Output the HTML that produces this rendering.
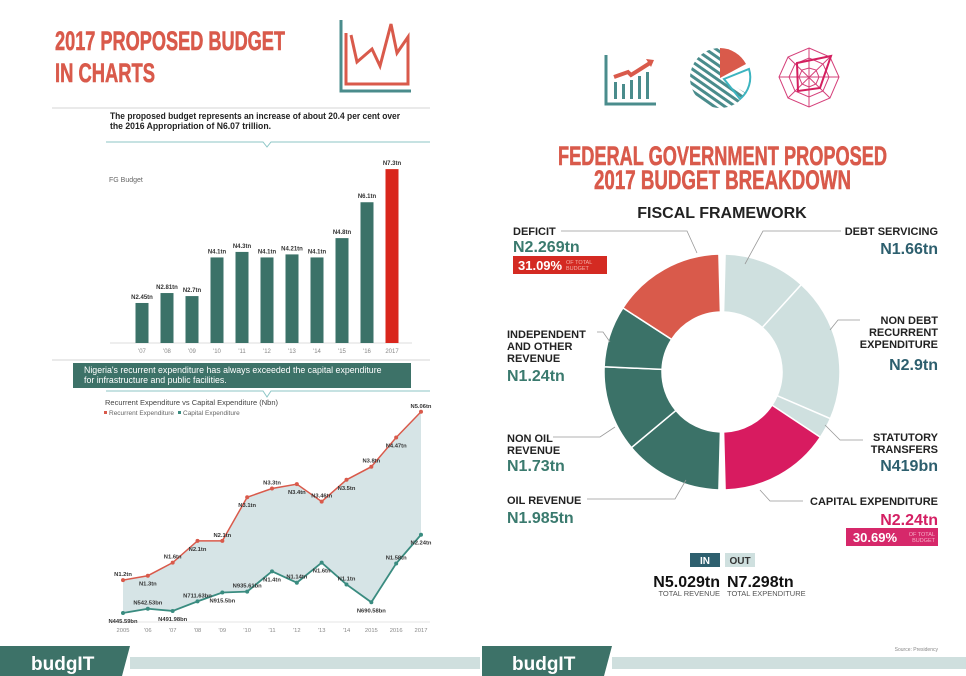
<!DOCTYPE html>
<html><head><meta charset="utf-8">
<style>
html,body{margin:0;padding:0;background:#fff;}
svg{display:block;font-family:"Liberation Sans",sans-serif;}
</style></head>
<body>
<svg id="pg" width="966" height="676" viewBox="0 0 966 676" xmlns="http://www.w3.org/2000/svg">
  <!-- LEFT PANEL -->
  <g fill="#d95a4b" font-weight="bold" stroke="#d95a4b" stroke-width="0.6">
    <text x="55" y="50" font-size="27" textLength="230" lengthAdjust="spacingAndGlyphs">2017 PROPOSED BUDGET</text>
    <text x="55" y="82" font-size="27" textLength="100" lengthAdjust="spacingAndGlyphs">IN CHARTS</text>
  </g>
  <g fill="none">
    <polyline points="341,20 341,91 411,91" stroke="#4a8c8c" stroke-width="3"/>
    <polyline points="346,33 346,84 408,84 408,37 397,53 391,24 380,66 372,49 357,62 351,35" stroke="#d95a4b" stroke-width="3"/>
  </g>
  <line x1="52" y1="108" x2="430" y2="108" stroke="#e3e3e3" stroke-width="1.5"/>
  <g font-size="9.5" font-weight="bold" fill="#222">
    <text x="110" y="119" textLength="290" lengthAdjust="spacingAndGlyphs">The proposed budget represents an increase of about 20.4 per cent over</text>
    <text x="110" y="129" textLength="161" lengthAdjust="spacingAndGlyphs">the 2016 Appropriation of N6.07 trillion.</text>
  </g>
  <polyline points="106,142 263,142 267,147 271,142 430,142" fill="none" stroke="#8cc6c6" stroke-width="1"/>
  <text x="109" y="182" font-size="7" fill="#666">FG Budget</text>
  <line x1="110" y1="343" x2="412" y2="343" stroke="#ddd"/>
  <g id="bars"></g>

  <line x1="52" y1="360" x2="430" y2="360" stroke="#e3e3e3" stroke-width="1.5"/>
  <rect x="73" y="363" width="338" height="25" fill="#3d7268"/>
  <g font-size="8.8" fill="#fff">
    <text x="84" y="373">Nigeria's recurrent expenditure has always exceeded the capital expenditure</text>
    <text x="84" y="383">for infrastructure and public facilities.</text>
  </g>
  <polyline points="106,391 263,391 267,397 271,391 430,391" fill="none" stroke="#8cc6c6" stroke-width="1"/>
  <text x="105" y="405" font-size="7.5" fill="#444">Recurrent Expenditure vs Capital Expenditure (Nbn)</text>
  <g font-size="6.5" fill="#666">
    <rect x="104" y="411" width="3" height="3" fill="#d95a4b"/>
    <text x="109" y="415">Recurrent Expenditure</text>
    <rect x="178" y="411" width="3" height="3" fill="#3a8c80"/>
    <text x="183" y="415">Capital Expenditure</text>
  </g>
  <line x1="112" y1="622" x2="430" y2="622" stroke="#e5e5e5"/>
  <g id="lines"></g>

  <!-- footer left -->
  <polygon points="0,646 130,646 122,676 0,676" fill="#3d7268"/>
  <rect x="130" y="657" width="350" height="12" fill="#cfdfde"/>
  <text x="31" y="670" font-size="19" font-weight="bold" fill="#fff">budgIT</text>

  <!-- RIGHT PANEL -->
  <g>
    <polyline points="606,55 606,104 656,104" fill="none" stroke="#4a8c8c" stroke-width="3"/>
    <rect x="614" y="82" width="3" height="17" fill="#4a8c8c"/><rect x="622" y="84" width="3" height="15" fill="#4a8c8c"/>
    <rect x="630" y="80" width="3" height="19" fill="#4a8c8c"/><rect x="638" y="76" width="3" height="23" fill="#4a8c8c"/>
    <rect x="646" y="72" width="3" height="27" fill="#4a8c8c"/>
    <polyline points="614,77 628,72 631,75 650,63" fill="none" stroke="#d95a4b" stroke-width="4"/>
    <polygon points="646,59 654,60 651,67" fill="#d95a4b"/>
  </g>
  <g>
    <defs><pattern id="hatch" width="6" height="6" patternUnits="userSpaceOnUse" patternTransform="rotate(35)"><rect width="6" height="3" fill="#4a8c8c"/></pattern></defs>
    <path d="M720,78 L720,48 A30,30 0 1 0 746,93 Z" fill="url(#hatch)"/>
    <path d="M720,78 L720,48 A30,30 0 0 1 746,64 Z" fill="#d95a4b"/>
    <path d="M724,79 L749,69 A28,28 0 0 1 740,99 Z" fill="none" stroke="#3cb4c0" stroke-width="2"/>
  </g>
  <g fill="none" stroke="#d5407a" stroke-width="1">
    <polygon points="809,48 830,57 839,77 830,98 809,107 788,98 779,77 788,57"/>
    <polygon points="809,58 823,64 829,77 823,91 809,97 795,91 789,77 795,64"/>
    <polygon points="809,68 816,70 819,77 816,84 809,87 802,84 799,77 802,70"/>
    <line x1="809" y1="48" x2="809" y2="107"/><line x1="779" y1="77" x2="839" y2="77"/>
    <line x1="788" y1="57" x2="830" y2="98"/><line x1="830" y1="57" x2="788" y2="98"/>
    <polygon points="797,63 831,56 820,88 798,91" stroke-width="2" stroke="#d41f5f"/>
  </g>
  <g fill="#d95a4b" font-weight="bold" stroke="#d95a4b" stroke-width="0.6">
    <text x="558" y="165" font-size="27" textLength="329" lengthAdjust="spacingAndGlyphs">FEDERAL GOVERNMENT PROPOSED</text>
    <text x="594" y="189" font-size="27" textLength="257" lengthAdjust="spacingAndGlyphs">2017 BUDGET BREAKDOWN</text>
  </g>
  <text x="722" y="218" font-size="16" font-weight="bold" fill="#222" text-anchor="middle">FISCAL FRAMEWORK</text>
  <g id="donut"></g>

  <g fill="none" stroke="#999" stroke-width="0.8">
    <polyline points="561,231 687,231 697,253"/>
    <polyline points="841,231 763,231 745,264"/>
    <polyline points="597,332 603,332 610,342"/>
    <polyline points="553,437 600,437 615,427"/>
    <polyline points="587,499 675,499 686,480"/>
    <polyline points="860,320 838,320 830,330"/>
    <polyline points="863,440 840,440 825,425"/>
    <polyline points="803,501 770,501 760,490"/>
  </g>
  <g font-weight="bold">
    <text x="513" y="235" font-size="11" fill="#222">DEFICIT</text>
    <text x="513" y="252" font-size="16" fill="#3a7a6e">N2.269tn</text>
    <rect x="513" y="256" width="94" height="18" fill="#d42a22"/>
    <text x="518" y="270" font-size="13" fill="#fff">31.09%</text>
    <text x="566" y="264" font-size="5.5" fill="#f4b0a8" font-weight="normal">OF TOTAL</text>
    <text x="566" y="270" font-size="5.5" fill="#f4b0a8" font-weight="normal">BUDGET</text>
    <text x="507" y="338" font-size="11" fill="#222">INDEPENDENT</text>
    <text x="507" y="350" font-size="11" fill="#222">AND OTHER</text>
    <text x="507" y="362" font-size="11" fill="#222">REVENUE</text>
    <text x="507" y="381" font-size="16" fill="#3a7a6e">N1.24tn</text>
    <text x="507" y="442" font-size="11" fill="#222">NON OIL</text>
    <text x="507" y="454" font-size="11" fill="#222">REVENUE</text>
    <text x="507" y="471" font-size="16" fill="#3a7a6e">N1.73tn</text>
    <text x="507" y="504" font-size="11" fill="#222">OIL REVENUE</text>
    <text x="507" y="523" font-size="16" fill="#3a7a6e">N1.985tn</text>
  </g>
  <g font-weight="bold" text-anchor="end">
    <text x="938" y="235" font-size="11" fill="#222">DEBT SERVICING</text>
    <text x="938" y="254" font-size="16" fill="#2d5f6e">N1.66tn</text>
    <text x="938" y="324" font-size="11" fill="#222">NON DEBT</text>
    <text x="938" y="336" font-size="11" fill="#222">RECURRENT</text>
    <text x="938" y="348" font-size="11" fill="#222">EXPENDITURE</text>
    <text x="938" y="370" font-size="16" fill="#2d5f6e">N2.9tn</text>
    <text x="938" y="441" font-size="11" fill="#222">STATUTORY</text>
    <text x="938" y="453" font-size="11" fill="#222">TRANSFERS</text>
    <text x="938" y="471" font-size="16" fill="#2d5f6e">N419bn</text>
    <text x="938" y="505" font-size="11" fill="#222">CAPITAL EXPENDITURE</text>
    <text x="938" y="525" font-size="16" fill="#d41f63">N2.24tn</text>
    <rect x="846" y="528" width="92" height="18" fill="#d6286a"/>
    <text x="897" y="542" font-size="13" fill="#fff">30.69%</text>
    <text x="935" y="536" font-size="5.5" fill="#f6b0c8" font-weight="normal">OF TOTAL</text>
    <text x="935" y="542" font-size="5.5" fill="#f6b0c8" font-weight="normal">BUDGET</text>
  </g>
  <g font-weight="bold">
    <rect x="690" y="553" width="30" height="14" fill="#2d5f6e"/>
    <text x="705" y="564" font-size="10" fill="#fff" text-anchor="middle">IN</text>
    <rect x="725" y="553" width="30" height="14" fill="#cfe0df"/>
    <text x="740" y="564" font-size="10" fill="#333" text-anchor="middle">OUT</text>
    <text x="720" y="587" font-size="16" fill="#111" text-anchor="end">N5.029tn</text>
    <text x="727" y="587" font-size="16" fill="#111">N7.298tn</text>
    <text x="720" y="596" font-size="7.5" fill="#555" font-weight="normal" text-anchor="end">TOTAL REVENUE</text>
    <text x="727" y="596" font-size="7.5" fill="#555" font-weight="normal">TOTAL EXPENDITURE</text>
  </g>
  <text x="938" y="651" font-size="5" fill="#888" text-anchor="end">Source: Presidency</text>
  <polygon points="482,646 612,646 604,676 482,676" fill="#3d7268"/>
  <rect x="612" y="657" width="354" height="12" fill="#cfdfde"/>
  <text x="512" y="670" font-size="19" font-weight="bold" fill="#fff">budgIT</text>
</svg>
<script>
const NS = "http://www.w3.org/2000/svg";
// ---- Bar chart data ----
const barYears = ["'07","'08","'09","'10","'11","'12","'13","'14","'15","'16","2017"];
const barValues = [2.45,2.81,2.7,4.1,4.3,4.1,4.21,4.1,4.8,6.1,7.3];
const barLabels = ["N2.45tn","N2.81tn","N2.7tn","N4.1tn","N4.3tn","N4.1tn","N4.21tn","N4.1tn","N4.8tn","N6.1tn","N7.3tn"];
// ---- Line chart data ----
const lineYears = ["2005","'06","'07","'08","'09","'10","'11","'12","'13","'14","2015","2016","2017"];
const recurrent = [1.2,1.3,1.6,2.1,2.1,3.1,3.3,3.4,3.0,3.5,3.8,4.47,5.06];
const capital = [0.44559,0.54253,0.49198,0.71163,0.9155,0.93561,1.4,1.14,1.6,1.1,0.69058,1.58,2.24];
const recLabels = ["N1.2tn","N1.3tn","N1.6tn","N2.1tn","N2.1tn","N3.1tn","N3.3tn","N3.4tn","N3.46tn","N3.5tn","N3.8tn","N4.47tn","N5.06tn"];
const capLabels = ["N445.59bn","N542.53bn","N491.98bn","N711.63bn","N915.5bn","N935.61bn","N1.4tn","N1.14tn","N1.6tn","N1.1tn","N690.58bn","N1.58tn","N2.24tn"];
// ---- Donut data ----
const inNames = ["OIL REVENUE","NON OIL REVENUE","INDEPENDENT REVENUE","DEFICIT"];
const inValues = [1.985,1.73,1.24,2.269];
const outNames = ["DEBT SERVICING","NON DEBT RECURRENT","STATUTORY TRANSFERS","CAPITAL EXPENDITURE"];
const outValues = [1.66,2.9,0.419,2.24];

function mk(tag, attrs, parent){const e=document.createElementNS(NS,tag);for(const k in attrs)e.setAttribute(k,attrs[k]);parent.appendChild(e);return e;}

// Bars
const barG = document.getElementById('bars');
const bx = i => 142 + i*25;
const by = v => 343 - (v - 1.0) * 27.6;
barValues.forEach((v,i)=>{
  const r = mk('rect',{x:bx(i)-6.5,y:by(v),width:13,height:343-by(v),fill:i===barValues.length-1?'#d9261c':'#3b7268'},barG);
  
  
  const t = mk('text',{x:bx(i),y:by(v)-4,'font-size':6,'font-weight':'bold',fill:'#333','text-anchor':'middle'},barG);
  t.textContent = barLabels[i];
  
  
  const xl = mk('text',{x:bx(i),y:353,'font-size':6,fill:'#888','text-anchor':'middle'},barG);
  xl.textContent = barYears[i];
  
  
});

// Lines
const lg = document.getElementById('lines');
const lx = i => 123 + i*(421-123)/(lineYears.length-1);
const ly = v => 632.4 - v*43.6;
const recPts = recurrent.map((v,i)=>lx(i)+','+ly(v));
const capPts = capital.map((v,i)=>lx(i)+','+ly(v));
const area = mk('polygon',{points:recPts.concat(capPts.slice().reverse()).join(' '),fill:'#d6e4e6'},lg);


const rl = mk('polyline',{points:recPts.join(' '),fill:'none',stroke:'#d95a4b','stroke-width':1.5},lg);


const cl = mk('polyline',{points:capPts.join(' '),fill:'none',stroke:'#3a8c80','stroke-width':1.8},lg);


recurrent.forEach((v,i)=>{
  const c = mk('circle',{cx:lx(i),cy:ly(v),r:2,fill:'#d95a4b'},lg);
  
  
  const t = mk('text',{x:lx(i),y:ly(v)+(i%2?10:-4),'font-size':5.8,'font-weight':'bold',fill:'#333','text-anchor':'middle'},lg);
  t.textContent = recLabels[i];
  
  
});
capital.forEach((v,i)=>{
  const c = mk('circle',{cx:lx(i),cy:ly(v),r:2,fill:'#3a8c80'},lg);
  
  
  const t = mk('text',{x:lx(i),y:ly(v)+(i%2?-4:10),'font-size':5.8,'font-weight':'bold',fill:'#333','text-anchor':'middle'},lg);
  t.textContent = capLabels[i];
  
  
});
lineYears.forEach((y,i)=>{
  const t = mk('text',{x:lx(i),y:632,'font-size':5.8,fill:'#888','text-anchor':'middle'},lg);
  t.textContent = y;
  
  
});

// Donut
const dg = document.getElementById('donut');
const CX=722, CY=372, RO=118, RI=60;
function pt(r,a){const t=(a-90)*Math.PI/180;return [CX+r*Math.cos(t),CY+r*Math.sin(t)];}
function arc(a0,a1){
  const p0=pt(RO,a0),p1=pt(RO,a1),q1=pt(RI,a1),q0=pt(RI,a0);const lf=(a1-a0)>180?1:0;
  return `M${p0[0]},${p0[1]} A${RO},${RO} 0 ${lf} 1 ${p1[0]},${p1[1]} L${q1[0]},${q1[1]} A${RI},${RI} 0 ${lf} 0 ${q0[0]},${q0[1]} Z`;
}
const outColors = ['#cfe0df','#cfe0df','#cfe0df','#d81b60'];
const inColors = ['#3b7268','#3b7268','#3b7268','#d95a4b'];
const outSum = outValues.reduce((a,b)=>a+b,0);
let a = 1.5;
outValues.forEach((v,i)=>{
  const span = v/outSum*177;
  const p = mk('path',{d:arc(a,a+span),fill:outColors[i],stroke:'#fff','stroke-width':1.5},dg);
  
  
  a += span;
});
const inSum = inValues.reduce((a,b)=>a+b,0);
a = 181.5;
inValues.forEach((v,i)=>{
  const span = v/inSum*177;
  const p = mk('path',{d:arc(a,a+span),fill:inColors[i],stroke:'#fff','stroke-width':1.5},dg);
  
  
  a += span;
});
</script>
</body></html>
